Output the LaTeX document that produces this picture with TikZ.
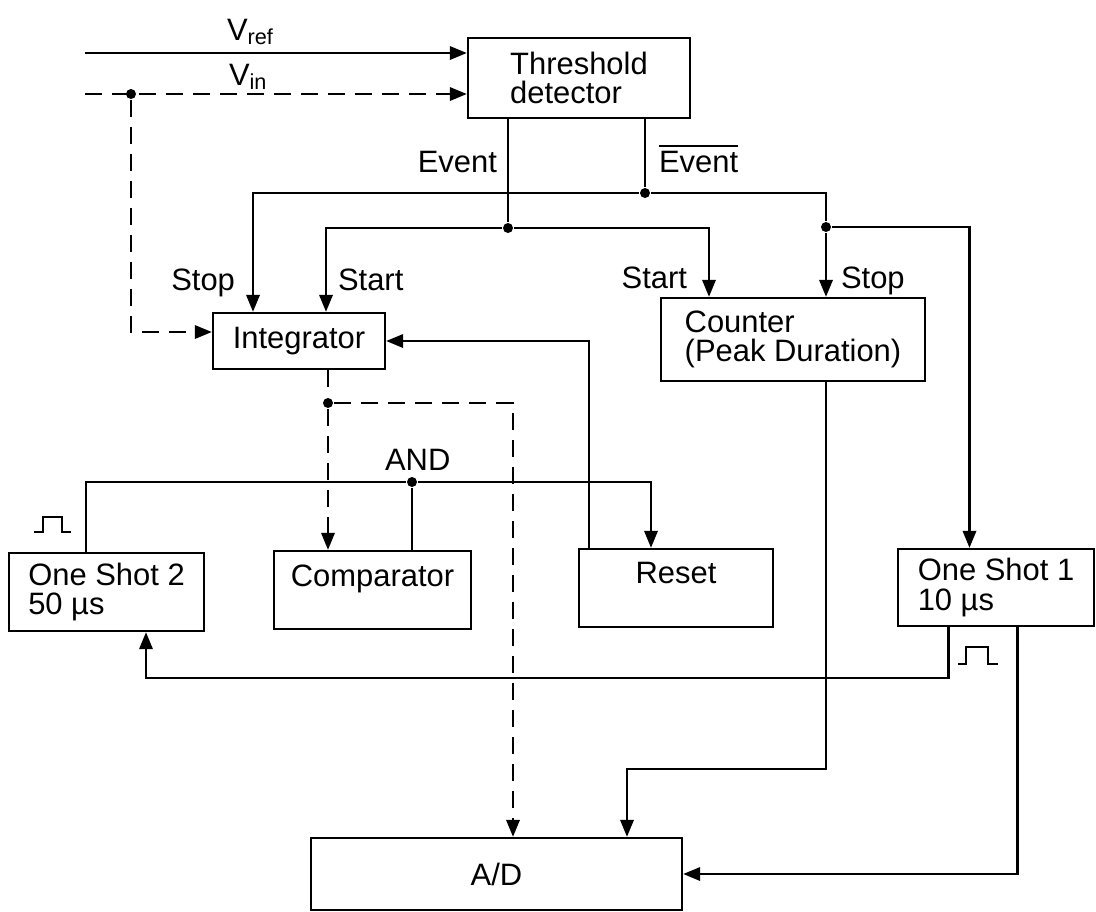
\documentclass[tikz,border=0pt]{standalone}
\usepackage{fontspec}
\setmainfont{Liberation Sans}
\usetikzlibrary{arrows.meta}

\begin{document}
\begin{tikzpicture}[
  font=\fontsize{8.8}{8.4}\selectfont, line width=0.6pt,
  blk/.style={draw, line width=0.7pt, inner sep=0pt, align=left},
  arr/.style={-{Triangle[length=1.7mm,width=1.35mm]}},
  dsh/.style={dash pattern=on 1.7mm off 1mm},
  jdot/.style={circle, fill, inner sep=0pt, minimum size=1mm},
  lbl/.style={inner sep=0pt}
]
\useasboundingbox (0,0) rectangle (10.96,-9.11);

% blocks
\node[blk, minimum width=2.22cm, minimum height=0.80cm] (thresh)  at (5.79,-0.78)  {Threshold\\detector};
\node[blk, minimum width=1.72cm, minimum height=0.56cm] (integ)   at (2.99,-3.41)  {Integrator};
\node[blk, minimum width=2.64cm, minimum height=0.83cm] (counter) at (7.93,-3.395) {Counter\\(Peak Duration)};
\node[blk, minimum width=1.95cm, minimum height=0.78cm] (os2)     at (1.065,-5.92) {One Shot 2\\50 µs};
\node[blk, minimum width=1.97cm, minimum height=0.78cm] (comp)    at (3.725,-5.90) {Comparator\\\mbox{}};
\node[blk, minimum width=1.94cm, minimum height=0.78cm] (reset)   at (6.76,-5.88)  {Reset\\\mbox{}};
\node[blk, minimum width=1.96cm, minimum height=0.77cm] (os1)     at (9.96,-5.875) {One Shot 1\\10 µs};
\node[blk, minimum width=3.71cm, minimum height=0.72cm] (ad)      at (4.965,-8.74) {A/D};

% junctions
\coordinate (vrefin) at (0.85,-0.53);
\coordinate (vinin)  at (0.85,-0.94);
\node[jdot] (vinjn)  at (1.31,-0.94) {};
\node[jdot] (nevjn)  at (6.45,-1.93) {};
\node[jdot] (evjn)   at (5.08,-2.28) {};
\node[jdot] (nevjn2) at (8.26,-2.27) {};
\node[jdot] (intjn)  at (3.28,-4.03) {};
\node[jdot] (andjn)  at (4.12,-4.82) {};
\coordinate (osbus)   at (1.46,-6.78);
\coordinate (cntbend) at (6.27,-7.69);

% labels
\node[lbl, anchor=base west] (vreflbl) at (2.26,-0.40) {V\textsubscript{ref}};
\node[lbl, anchor=base west] (vinlbl)  at (2.28,-0.85) {V\textsubscript{in}};
\node[lbl, anchor=base east] (evlbl)   at (4.98,-1.72) {Event};
\node[lbl, anchor=base west] (nevlbl)  at (6.58,-1.72) {\(\overline{\mbox{Event}}\)};
\node[lbl, anchor=base east] (istop)   at (2.36,-2.90) {Stop};
\node[lbl, anchor=base west] (istart)  at (3.37,-2.90) {Start};
\node[lbl, anchor=base east] (cstart)  at (6.88,-2.88) {Start};
\node[lbl, anchor=base west] (cstop)   at (8.40,-2.88) {Stop};
\node[lbl, anchor=base west] (andlbl)  at (3.84,-4.70) {AND};

% inputs
\draw[arr] (vrefin) -- (vrefin -| thresh.west);
\draw[arr, dsh] (vinin) -- (vinin -| thresh.west);
\draw[arr, dsh] (vinjn) |- ([yshift=0.9mm]integ.west);

% event lines
\draw (evjn |- thresh.south) -- (evjn);
\draw[arr] (evjn) -| ([xshift=2.7mm]integ.north);
\draw[arr] (evjn) -| ([xshift=-8.4mm]counter.north);
\draw (nevjn |- thresh.south) -- (nevjn);
\draw[arr] (nevjn) -| ([xshift=-4.6mm]integ.north);
\draw (nevjn) -| (nevjn2);
\draw[arr] (nevjn2) -- (nevjn2 |- counter.north);
\draw[arr] (nevjn2) -| ([xshift=-2.65mm]os1.north);

% integrator output
\draw[dsh] (intjn |- integ.south) -- (intjn);
\draw[arr, dsh] (intjn) -- (intjn |- comp.north);
\draw[arr, dsh] (intjn) -| ([xshift=1.65mm]ad.north);

% AND / reset
\draw (andjn) -- (andjn |- comp.north);
\draw (andjn) -| ([xshift=-2.05mm]os2.north);
\draw[arr] (andjn) -| ([xshift=-2.5mm]reset.north);
\draw[arr] ([xshift=-8.7mm]reset.north) |- (integ.east);

% outputs to A/D
\draw[arr] (nevjn2 |- counter.south) |- (cntbend) -- (cntbend |- ad.north);
\draw[arr] ([xshift=-4.75mm]os1.south) |- (osbus) -- (osbus |- os2.south);
\draw[arr] ([xshift=2.15mm]os1.south) |- (ad.east);

% pulses
\draw[line width=0.6pt] (0.34,-5.32) -- ++(0.09,0) -- ++(0,0.15) -- ++(0.19,0) -- ++(0,-0.15) -- ++(0.09,0);
\draw[line width=0.6pt] (9.58,-6.64) -- ++(0.08,0) -- ++(0,0.17) -- ++(0.22,0) -- ++(0,-0.17) -- ++(0.10,0);
\end{tikzpicture}
\end{document}
